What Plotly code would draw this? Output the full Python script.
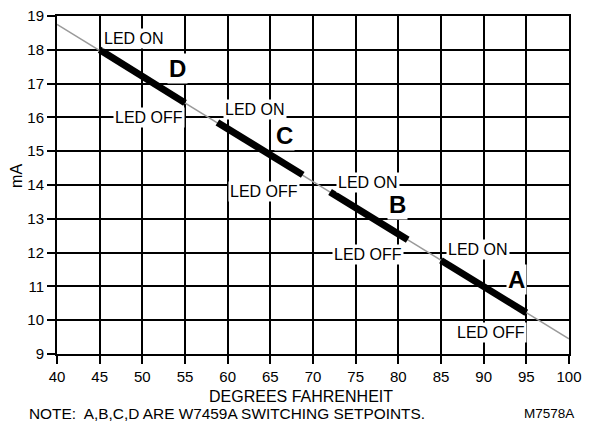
import plotly.graph_objects as go

# Reference (thin) line endpoints
ref_x = [40, 100]
ref_y = [18.75, 9.45]

# Switching setpoint segments (thick)
seg_names = ["D", "C", "B", "A"]
seg_x = [[45, 55], [58.8, 68.8], [72.0, 81.1], [85, 95]]
seg_y = [[18.0, 16.43], [15.85, 14.3], [13.79, 12.38], [11.77, 10.22]]

# LED labels
led_text = ["LED ON", "LED OFF", "LED ON", "LED OFF", "LED ON", "LED OFF", "LED ON", "LED OFF"]
led_x = [49.0, 50.8, 63.2, 64.2, 76.5, 76.5, 89.3, 90.9]
led_y = [18.32, 16.0, 16.22, 13.82, 14.06, 11.93, 12.1, 9.65]

# Letter labels
let_x = [54.1, 66.7, 79.9, 93.8]
let_y = [17.46, 15.45, 13.41, 11.19]

x_ticks = list(range(40, 101, 5))
y_ticks = list(range(9, 20))

FONT = "Liberation Sans, Arial, Helvetica, sans-serif"

fig = go.Figure()
fig.add_trace(go.Scatter(x=ref_x, y=ref_y, mode="lines",
                         line=dict(color="#9a9a9a", width=1.5),
                         hoverinfo="skip", showlegend=False))
for xs, ys in zip(seg_x, seg_y):
    fig.add_trace(go.Scatter(x=xs, y=ys, mode="lines",
                             line=dict(color="black", width=7),
                             hoverinfo="skip", showlegend=False))

annotations = []
for t, x, y in zip(led_text, led_x, led_y):
    annotations.append(dict(x=x, y=y, xref="x", yref="y", text=t, showarrow=False,
                            font=dict(family=FONT, size=16, color="black"),
                            bgcolor="white", borderpad=1))
for t, x, y in zip(seg_names, let_x, let_y):
    annotations.append(dict(x=x, y=y, xref="x", yref="y", text="<b>%s</b>" % t,
                            showarrow=False,
                            font=dict(family=FONT, size=24, color="black"),
                            bgcolor="white", borderpad=1))

annotations += [
    dict(x=0.4766, y=-0.127, xref="paper", yref="paper", text="DEGREES FAHRENHEIT",
         showarrow=False, font=dict(family=FONT, size=16, color="black"),
         xanchor="center", yanchor="middle"),
    dict(x=-0.078, y=0.527, xref="paper", yref="paper", text="mA", textangle=-90,
         showarrow=False, font=dict(family=FONT, size=16, color="black"),
         xanchor="center", yanchor="middle"),
    dict(x=-0.0586, y=-0.1746, xref="paper", yref="paper",
         text="NOTE:  A,B,C,D ARE W7459A SWITCHING SETPOINTS.",
         showarrow=False, font=dict(family=FONT, size=15.4, color="black"),
         xanchor="left", yanchor="middle"),
    dict(x=0.961, y=-0.1746, xref="paper", yref="paper", text="M7578A",
         showarrow=False, font=dict(family=FONT, size=13.5, color="black"),
         xanchor="center", yanchor="middle"),
]

axis_common = dict(showgrid=True, gridcolor="black", gridwidth=2,
                   showline=True, linecolor="black", linewidth=2, mirror=True,
                   ticks="outside", ticklen=8, tickwidth=2, tickcolor="black",
                   zeroline=False, automargin=False, ticklabeloverflow="allow",
                   tickfont=dict(family=FONT, size=15, color="black"))

# page body has an 8px default margin; figure sized to fit inside the window
fig.update_layout(
    width=587, height=421,
    margin=dict(l=49, r=26, t=8, b=75, pad=0, autoexpand=False),
    paper_bgcolor="white", plot_bgcolor="white",
    xaxis=dict(range=[40, 100], tickvals=x_ticks, **axis_common),
    yaxis=dict(range=[9, 19], tickvals=y_ticks, **axis_common),
    annotations=annotations,
    showlegend=False,
)

fig.write_html("out.html", config={"displayModeBar": False})
